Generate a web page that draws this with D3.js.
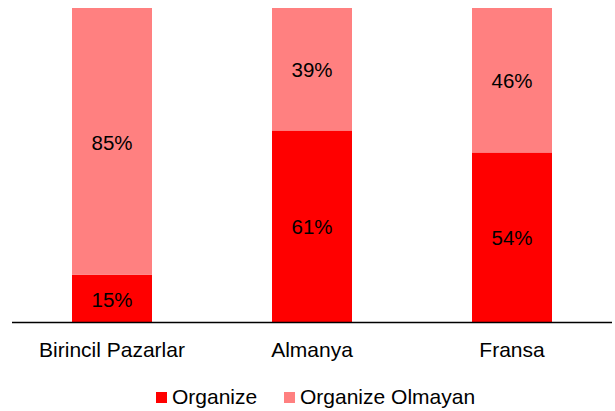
<!DOCTYPE html>
<html><head><meta charset="utf-8">
<script src="https://cdn.jsdelivr.net/npm/d3@7"></script>
<style>body{margin:0;background:#fff}svg{display:block}text{font-family:"Liberation Sans",Arial,sans-serif;fill:#000}</style>
</head><body>
<svg id="c" width="615" height="411"></svg>
<script>
const categories = ["Birincil Pazarlar", "Almanya", "Fransa"];
const organize = [15, 61, 54];
const organizeOlmayan = [85, 39, 46];
const seriesNames = ["Organize", "Organize Olmayan"];
const colors = ["#FF0000", "#FF8080"];

const svg = d3.select("#c");
const x = d3.scaleBand().domain(categories).range([12, 612]).paddingInner(0.6).paddingOuter(0.3);
const y = d3.scaleLinear().domain([0, 100]).range([322, 8]);

const rows = categories.map((c, i) => ({cat: c, Organize: organize[i], "Organize Olmayan": organizeOlmayan[i]}));
const stack = d3.stack().keys(seriesNames)(rows);

stack.forEach((s, si) => {
  const g = svg.append("g");
  g.selectAll("rect").data(s).join("rect")
    .attr("x", d => x(d.data.cat))
    .attr("width", x.bandwidth())
    .attr("y", d => y(d[1]))
    .attr("height", d => y(d[0]) - y(d[1]))
    .attr("fill", colors[si]);
  g.selectAll("text").data(s).join("text")
    .attr("x", d => x(d.data.cat) + x.bandwidth() / 2)
    .attr("y", d => (y(d[0]) + y(d[1])) / 2 + 1)
    .attr("dy", "0.35em")
    .attr("text-anchor", "middle")
    .style("font-size", "20.5px")
    .text(d => (d[1] - d[0]) + "%");
});

const axis = svg.append("g").attr("transform", "translate(0,322)")
  .call(d3.axisBottom(x).tickSize(0).tickPadding(20));
axis.select(".domain").attr("stroke", "#000").attr("stroke-width", 1.6).attr("d", "M12,0.5H612");
axis.selectAll("text").style("font-size", "21px").attr("fill", "#000");

const legX = [156, 284];
const leg = svg.append("g");
seriesNames.forEach((n, i) => {
  leg.append("rect").attr("x", legX[i]).attr("y", 392).attr("width", 11).attr("height", 11).attr("fill", colors[i]);
  leg.append("text").attr("x", legX[i] + 16).attr("y", 404).style("font-size", "21px").text(n);
});
</script>
</body></html>
